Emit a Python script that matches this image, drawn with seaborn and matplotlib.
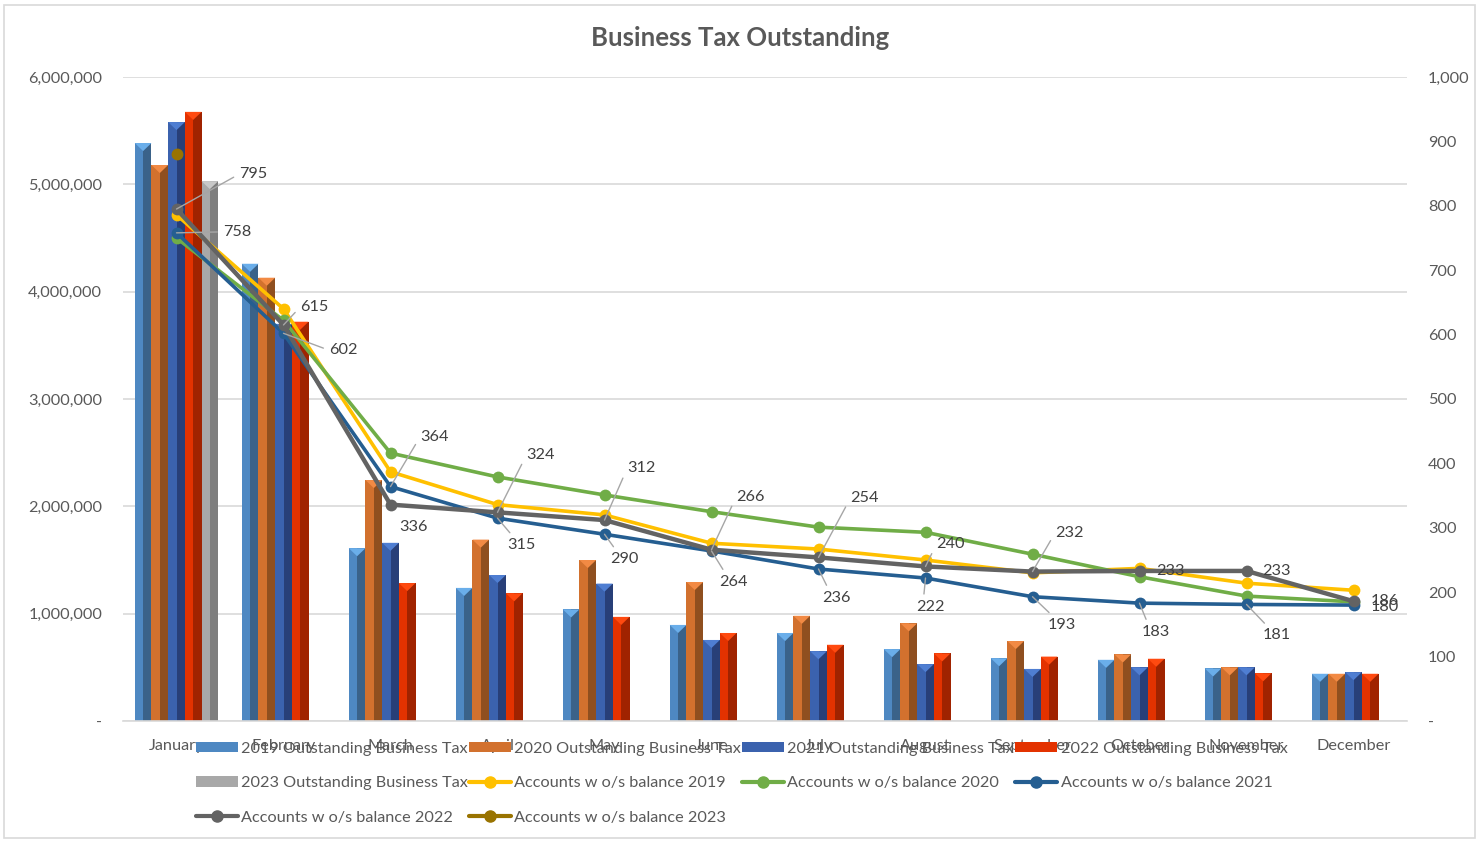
#! /usr/bin/env python3

import numpy as np
import pandas as pd
import matplotlib
matplotlib.use('Agg')
import matplotlib.pyplot as plt
import matplotlib.colors as mcolors
from matplotlib.patches import Rectangle, Polygon, Patch
from matplotlib.lines import Line2D
from matplotlib.ticker import FuncFormatter, MultipleLocator
import seaborn as sns

months = ['January', 'February', 'March', 'April', 'May', 'June', 'July',
          'August', 'September', 'October', 'November', 'December']

# outstanding business tax (left axis)
tax_2019 = [5385000, 4260000, 1610000, 1240000, 1040000, 895000, 820000, 670000, 585000, 570000, 490000, 440000]
tax_2020 = [5180000, 4130000, 2245000, 1690000, 1500000, 1295000, 980000, 910000, 745000, 620000, 500000, 440000]
tax_2021 = [5580000, 3700000, 1660000, 1360000, 1280000, 755000, 650000, 530000, 485000, 500000, 500000, 455000]
tax_2022 = [5675000, 3720000, 1285000, 1190000, 970000, 820000, 710000, 630000, 600000, 580000, 445000, 440000]
tax_2023 = [5030000, None, None, None, None, None, None, None, None, None, None, None]

# accounts with outstanding balance (right axis)
acc_2019 = [786, 640, 387, 336, 320, 276, 267, 250, 230, 237, 214, 203]
acc_2020 = [750, 622, 416, 379, 351, 325, 301, 293, 259, 224, 194, 185]
acc_2021 = [758, 602, 364, 315, 290, 264, 236, 222, 193, 183, 181, 180]
acc_2022 = [795, 615, 336, 324, 312, 266, 254, 240, 232, 233, 233, 186]
acc_2023 = [880, None, None, None, None, None, None, None, None, None, None, None]

bar_names = ['2019 Outstanding Business Tax', '2020 Outstanding Business Tax',
             '2021 Outstanding Business Tax', '2022 Outstanding Business Tax',
             '2023 Outstanding Business Tax']
line_names = ['Accounts w o/s balance 2019', 'Accounts w o/s balance 2020',
              'Accounts w o/s balance 2021', 'Accounts w o/s balance 2022',
              'Accounts w o/s balance 2023']

bar_front = ['#4E88C2', '#D2712E', '#3B62AE', '#E33200', '#A8A8A8']
bar_side = ['#3A6289', '#8F4F1F', '#283F78', '#A02300', '#7E7E7E']
bar_cap = ['#6AAEEA', '#F28A44', '#4F7ED2', '#FF4A10', '#C8C8C8']
line_colors = ['#FFC000', '#70AD47', '#255E91', '#636363', '#997300']

sns.set_style('white')
plt.rcParams['font.family'] = ['Lato', 'DejaVu Sans']
txt = '#595959'
fs = 11.7

tax_df = pd.DataFrame({'Month': months, bar_names[0]: tax_2019, bar_names[1]: tax_2020,
                       bar_names[2]: tax_2021, bar_names[3]: tax_2022, bar_names[4]: tax_2023})
tax_long = tax_df.melt(id_vars='Month', var_name='Series', value_name='Tax').dropna()

acc_df = pd.DataFrame({'Month': months, line_names[0]: acc_2019, line_names[1]: acc_2020,
                       line_names[2]: acc_2021, line_names[3]: acc_2022, line_names[4]: acc_2023})
acc_df['pos'] = range(len(months))

fig = plt.figure(figsize=(14.8, 8.42), dpi=100)
ax = fig.add_axes([123 / 1480, 1 - 721 / 842, (1407 - 123) / 1480, (721 - 77) / 842])

sns.barplot(data=tax_long, x='Month', y='Tax', hue='Series', order=months,
            hue_order=bar_names, palette=dict(zip(bar_names, bar_front)),
            errorbar=None, width=0.78, saturation=1, ax=ax, legend=False, zorder=2)

# fake the bevelled Excel look: darker right face + light cap
cap_h = 75000
for p in list(ax.patches):
    x, w, h = p.get_x(), p.get_width(), p.get_height()
    if not np.isfinite(h) or h <= 0:
        continue
    fc = mcolors.to_hex(p.get_facecolor()).upper()
    i = bar_front.index(fc) if fc in bar_front else 0
    p.set_edgecolor('none')
    ax.add_patch(Rectangle((x + w * 0.5, 0), w * 0.5, h, facecolor=bar_side[i],
                           edgecolor='none', zorder=2.1))
    ax.add_patch(Polygon([(x, h), (x + w, h), (x + w * 0.5, h - cap_h)], closed=True,
                         facecolor=bar_cap[i], edgecolor='none', zorder=2.2))

ax.set_ylim(0, 6000000)
ax.set_xlim(-0.5, 11.5)
ax.yaxis.set_major_locator(MultipleLocator(1000000))
ax.yaxis.set_major_formatter(FuncFormatter(lambda v, _: '-' if v == 0 else f'{v:,.0f}'))
ax.yaxis.grid(True, color='#D9D9D9', lw=1.2, zorder=0)
ax.set_axisbelow(True)
ax.set_xlabel('')
ax.set_ylabel('')
for s in ['top', 'right', 'left']:
    ax.spines[s].set_visible(False)
ax.spines['bottom'].set_color('#D9D9D9')
ax.spines['bottom'].set_linewidth(1.2)
ax.tick_params(axis='y', length=0, pad=15, labelsize=fs, labelcolor=txt)
ax.tick_params(axis='x', length=0, pad=13, labelsize=fs, labelcolor=txt)

ax2 = ax.twinx()
for name, c in zip(line_names, line_colors):
    sns.lineplot(data=acc_df, x='pos', y=name, color=c, marker='o', markersize=8.5,
                 markeredgewidth=0, linewidth=3.2 if '2022' in name else 2.6,
                 ax=ax2, zorder=3)
ax2.set_ylim(0, 1000)
ax2.yaxis.set_major_locator(MultipleLocator(100))
ax2.yaxis.set_major_formatter(FuncFormatter(lambda v, _: '-' if v == 0 else f'{v:,.0f}'))
ax2.set_ylabel('')
ax2.set_xlabel('')
for s in ['top', 'right', 'left', 'bottom']:
    ax2.spines[s].set_visible(False)
ax2.tick_params(axis='y', length=0, pad=15, labelsize=fs, labelcolor=txt)
ax2.set_xlim(-0.5, 11.5)

# data labels (offsets in pixels), leader lines where Excel draws them
off_2022 = [(77, 35), (31, 18), (23, -22), (43, 57), (37, 52), (39, 53),
            (46, 59), (25, 22), (37, 39), (31, 0), (30, 0), (31, 0)]
lead_2022 = [1, 1, 0, 1, 1, 1, 1, 1, 1, 0, 0, 0]
off_2021 = [(61, 1), (60, -17), (44, 50), (24, -27), (20, -25), (22, -31),
            (18, -29), (5, -29), (29, -28), (16, -29), (30, -31), (31, -2)]
lead_2021 = [1, 1, 1, 1, 1, 1, 1, 1, 1, 1, 1, 0]
for vals, offs, leads in [(acc_2022, off_2022, lead_2022), (acc_2021, off_2021, lead_2021)]:
    for i, (v, (dx, dy), ld) in enumerate(zip(vals, offs, leads)):
        arrow = None
        if ld:
            rel = (0, 0.5) if (dy > 10 or abs(dy) < 20) else (0.25, 1.0)
            arrow = dict(arrowstyle='-', color='#A6A6A6', lw=1, shrinkA=2, shrinkB=0,
                         relpos=rel)
        ax2.annotate(str(v), xy=(i, v), xytext=(dx, dy), textcoords='offset pixels',
                     ha='center', va='center', fontsize=fs, color='#404040', zorder=5,
                     arrowprops=arrow)

# legend, Excel order (row by row)
handles = [Patch(facecolor=c, edgecolor='none') for c in bar_front]
handles += [Line2D([0], [0], color=c, lw=3, marker='o', markersize=8) for c in line_colors]
labels = bar_names + line_names
order = [0, 4, 8, 1, 5, 9, 2, 6, 3, 7]
fig.legend([handles[k] for k in order], [labels[k] for k in order], ncol=4,
           loc='upper center', bbox_to_anchor=(0.501, 1 - 742 / 842), frameon=False,
           fontsize=fs, labelcolor=txt, handlelength=2.6, handleheight=0.6,
           handletextpad=0.2, columnspacing=0.05, labelspacing=1.25,
           borderpad=0, borderaxespad=0)

fig.suptitle('Business Tax Outstanding', x=0.5, y=1 - 38 / 842, va='center',
             fontsize=18.5, fontweight='bold', color=txt)

fig.patches.append(Rectangle((4 / 1480, 4 / 842), 1 - 9 / 1480, 1 - 9 / 842,
                             transform=fig.transFigure, fill=False,
                             edgecolor='#D9D9D9', lw=1.2))

fig.savefig('out.png', dpi=100)
